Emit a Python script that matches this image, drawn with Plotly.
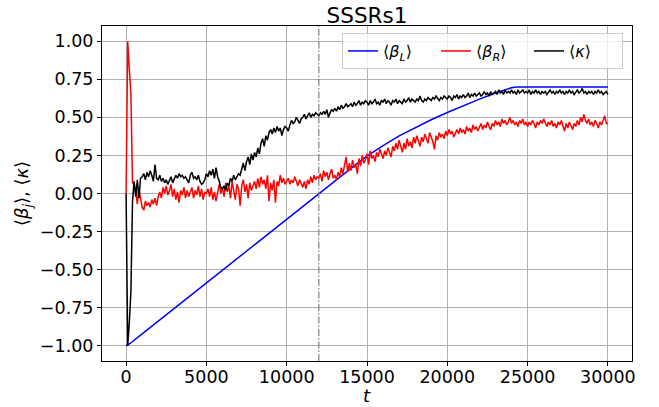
import numpy as np
import plotly.graph_objects as go

# time axis for the sampled averages (every 100 steps)
t = list(range(0, 30001, 100))

# <kappa>
kappa = [
    0.00, -1.00, -0.85, -0.64, -0.05, 0.08, -0.02, 0.09, -0.03, 0.10,
    0.11, 0.13, 0.09, 0.14, 0.11, 0.15, 0.12, 0.08, 0.19, 0.10,
    0.09, 0.12, 0.08, 0.10, 0.07, 0.09, 0.06, 0.08, 0.11, 0.07,
    0.09, 0.12, 0.10, 0.13, 0.11, 0.12, 0.10, 0.11, 0.09, 0.07,
    0.12, 0.14, 0.10, 0.11, 0.09, 0.12, 0.08, 0.06, 0.07, 0.09,
    0.13, 0.11, 0.15, 0.12, 0.16, 0.10, 0.17, 0.11, 0.08, 0.04,
    0.03, 0.05, 0.02, 0.07, 0.05, 0.10, 0.08, 0.12, 0.09, 0.11,
    0.13, 0.12, 0.17, 0.20, 0.15, 0.21, 0.24, 0.19, 0.26, 0.22,
    0.27, 0.24, 0.30, 0.26, 0.33, 0.36, 0.31, 0.38, 0.35, 0.40,
    0.42, 0.39, 0.43, 0.40, 0.44, 0.41, 0.43, 0.38, 0.42, 0.44,
    0.43, 0.41, 0.45, 0.48, 0.46, 0.47, 0.50, 0.48, 0.46, 0.49,
    0.50, 0.52, 0.49, 0.51, 0.53, 0.50, 0.52, 0.51, 0.53, 0.52,
    0.51, 0.53, 0.52, 0.54, 0.52, 0.55, 0.50, 0.53, 0.55, 0.54,
    0.56, 0.54, 0.57, 0.55, 0.58, 0.56, 0.57, 0.59, 0.57, 0.58,
    0.59, 0.57, 0.60, 0.58, 0.59, 0.61, 0.58, 0.60, 0.59, 0.61,
    0.60, 0.58, 0.61, 0.59, 0.60, 0.62, 0.59, 0.60, 0.58, 0.61,
    0.60, 0.62, 0.59, 0.61, 0.60, 0.58, 0.61, 0.60, 0.62, 0.59,
    0.61, 0.60, 0.59, 0.62, 0.60, 0.61, 0.63, 0.60, 0.62, 0.61,
    0.60, 0.62, 0.61, 0.64, 0.61, 0.60, 0.62, 0.61, 0.63, 0.62,
    0.61, 0.63, 0.62, 0.64, 0.62, 0.61, 0.63, 0.62, 0.64, 0.63,
    0.62, 0.64, 0.63, 0.61, 0.64, 0.63, 0.65, 0.62, 0.64, 0.63,
    0.65, 0.63, 0.64, 0.66, 0.63, 0.65, 0.64, 0.66, 0.64, 0.65,
    0.66, 0.64, 0.65, 0.67, 0.65, 0.66, 0.64, 0.67, 0.65, 0.66,
    0.67, 0.65, 0.68, 0.66, 0.67, 0.65, 0.68, 0.66, 0.67, 0.66,
    0.68, 0.66, 0.67, 0.65, 0.68, 0.66, 0.67, 0.68, 0.66, 0.67,
    0.66, 0.68, 0.65, 0.67, 0.66, 0.68, 0.66, 0.67, 0.65, 0.67,
    0.66, 0.67, 0.65, 0.67, 0.68, 0.66, 0.67, 0.65, 0.67, 0.66,
    0.68, 0.66, 0.67, 0.65, 0.67, 0.66, 0.68, 0.66, 0.67, 0.65,
    0.67, 0.68, 0.66, 0.67, 0.69, 0.66, 0.67, 0.65, 0.67, 0.66,
    0.67, 0.65, 0.67, 0.66, 0.68, 0.66, 0.67, 0.65, 0.66, 0.67,
    0.65,
]

# <beta_R>
beta_r = [
    0.00, 1.00, 0.82, 0.65, 0.07, 0.06, 0.02, -0.07, 0.03, -0.04,
    -0.09, -0.11, -0.05, -0.08, -0.06, -0.09, -0.04, -0.07, -0.03, -0.08,
    -0.02, 0.01, -0.03, 0.04, 0.00, 0.05, -0.01, 0.02, 0.06, -0.02,
    0.03, -0.04, 0.01, -0.06, 0.02, -0.01, 0.04, -0.03, 0.02, -0.02,
    0.01, 0.04, -0.03, 0.02, -0.01, 0.05, -0.02, 0.03, -0.04, 0.01,
    0.00, 0.03, -0.02, 0.04, -0.04, 0.01, -0.05, 0.02, 0.06, 0.00,
    0.04, -0.02, 0.07, 0.01, 0.05, -0.03, 0.08, 0.02, -0.04, 0.06,
    0.03, -0.08, 0.05, 0.09, 0.01, 0.06, -0.03, 0.07, 0.02, 0.05,
    0.08, 0.03, 0.10, 0.04, 0.11, 0.06, 0.09, 0.03, 0.12, -0.05,
    0.07, 0.02, 0.09, -0.06, 0.08, 0.05, 0.12, 0.07, 0.10, 0.06,
    0.08, 0.10, 0.06, 0.09, 0.07, 0.11, 0.08, 0.05, 0.09, 0.06,
    0.04, 0.08, 0.03, 0.09, 0.06, 0.11, 0.07, 0.12, 0.09, 0.11,
    0.10, 0.13, 0.08, 0.15, 0.11, 0.14, 0.09, 0.13, 0.16, 0.10,
    0.12, 0.09, 0.14, 0.11, 0.17, 0.13, 0.19, 0.24, 0.14, 0.20,
    0.15, 0.22, 0.17, 0.19, 0.13, 0.23, 0.18, 0.25, 0.20, 0.22,
    0.26, 0.19, 0.28, 0.23, 0.25, 0.21, 0.27, 0.24, 0.29, 0.26,
    0.23, 0.28, 0.25, 0.30, 0.27, 0.24, 0.31, 0.28, 0.33, 0.29,
    0.35, 0.30, 0.27, 0.33, 0.29, 0.36, 0.31, 0.34, 0.30, 0.37,
    0.33, 0.38, 0.35, 0.31, 0.37, 0.34, 0.39, 0.36, 0.33, 0.40,
    0.37, 0.34, 0.29, 0.38, 0.35, 0.40, 0.37, 0.39, 0.36, 0.41,
    0.38, 0.42, 0.39, 0.41, 0.37, 0.40, 0.42, 0.39, 0.43, 0.40,
    0.42, 0.39, 0.44, 0.41, 0.43, 0.40, 0.45, 0.42, 0.44, 0.41,
    0.43, 0.46, 0.42, 0.45, 0.43, 0.47, 0.44, 0.42, 0.46, 0.44,
    0.48, 0.45, 0.47, 0.44, 0.49, 0.46, 0.48, 0.45, 0.47, 0.50,
    0.46, 0.48, 0.45, 0.47, 0.44, 0.48, 0.46, 0.49, 0.45, 0.47,
    0.44, 0.47, 0.45, 0.48, 0.46, 0.43, 0.47, 0.45, 0.48, 0.46,
    0.49, 0.46, 0.44, 0.47, 0.45, 0.48, 0.44, 0.46, 0.43, 0.47,
    0.45, 0.48, 0.44, 0.41, 0.46, 0.43, 0.47, 0.45, 0.42, 0.46,
    0.44, 0.48, 0.45, 0.50, 0.47, 0.52, 0.48, 0.46, 0.49, 0.45,
    0.47, 0.44, 0.48, 0.46, 0.43, 0.47, 0.45, 0.48, 0.51, 0.46,
    0.46,
]

# <beta_L> is smooth, so it is stored on a coarser grid
t_beta_l = [0, 250, 1000, 2000, 3000, 4000, 5000, 6000, 7000, 8000, 9000,
            10000, 11000, 12000, 13000, 14000, 15000, 16000, 17000, 18000,
            19000, 20000, 21000, 22000, 23000, 23500, 24000, 24300, 25000,
            26000, 27000, 28000, 29000, 30000]
beta_l = [-1.00, -0.985, -0.922, -0.838, -0.754, -0.671, -0.587, -0.503,
          -0.419, -0.335, -0.251, -0.168, -0.084, 0.000, 0.083, 0.165,
          0.245, 0.315, 0.378, 0.433, 0.484, 0.532, 0.577, 0.620, 0.660,
          0.680, 0.695, 0.700, 0.700, 0.700, 0.700, 0.700, 0.700, 0.700]

t_switch = 12000

FONT = "DejaVu Sans"

fig = go.Figure()
fig.add_trace(go.Scatter(x=t_beta_l, y=beta_l, mode="lines",
                         line=dict(color="#0000ff", width=1.5),
                         name="⟨<i>β</i><sub><i>L</i></sub>⟩"))
fig.add_trace(go.Scatter(x=t, y=beta_r, mode="lines",
                         line=dict(color="#ff0000", width=1.5),
                         name="⟨<i>β</i><sub><i>R</i></sub>⟩"))
fig.add_trace(go.Scatter(x=t, y=kappa, mode="lines",
                         line=dict(color="#000000", width=1.5),
                         name="⟨<i>κ</i>⟩"))

fig.add_vline(x=t_switch, line=dict(color="#808080", width=1.2,
                                    dash="7px,2px,1.5px,2px"))

axis_common = dict(
    showline=True, linecolor="black", linewidth=1, mirror=True,
    showgrid=True, gridcolor="#b0b0b0", gridwidth=1,
    ticks="outside", ticklen=4, tickcolor="black", tickwidth=1,
    zeroline=False, automargin=False,
    tickfont=dict(family=FONT, size=17.5, color="black"),
)

# x-axis label placed just under the tick labels
fig.add_annotation(text="<i>t</i>", x=0.5, xref="paper", xanchor="center",
                   y=-0.103, yref="paper", yanchor="middle", showarrow=False,
                   font=dict(family=FONT, size=18, color="black"))

fig.update_layout(
    width=659, height=407,
    margin=dict(l=102, r=27, t=26, b=46),
    paper_bgcolor="white", plot_bgcolor="white",
    font=dict(family=FONT, color="black"),
    title=dict(text="SSSRs1", x=0.5, xref="paper", xanchor="center",
               y=1, yref="paper", yanchor="bottom", pad=dict(b=3),
               font=dict(family=FONT, size=21.5, color="black")),
    xaxis=dict(range=[-1500, 31500], tick0=0, dtick=5000, tickformat="d",
               ticklabelstandoff=-4, **axis_common),
    yaxis=dict(range=[-1.1, 1.1], tick0=-1, dtick=0.25, tickformat=".2f",
               title=dict(text="⟨<i>β</i><sub><i>j</i></sub>⟩, ⟨<i>κ</i>⟩",
                          font=dict(family=FONT, size=18), standoff=6),
               **axis_common),
    legend=dict(orientation="h", x=0.983, xanchor="right", y=0.979,
                yanchor="top", bgcolor="rgba(255,255,255,0.8)",
                bordercolor="#cccccc", borderwidth=1,
                font=dict(family=FONT, size=16, color="black"),
                entrywidth=48, tracegroupgap=0),
    showlegend=True,
)

fig.write_html("out.html")
